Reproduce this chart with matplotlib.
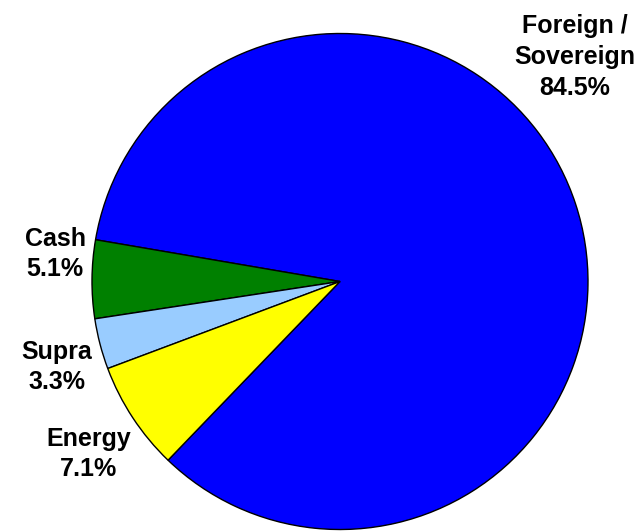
import matplotlib
matplotlib.use("Agg")
import matplotlib.pyplot as plt

# slice data (counterclockwise from the Energy/Foreign boundary)
labels = ["Foreign /\nSovereign", "Cash", "Supra", "Energy"]
shares = [84.5, 5.1, 3.3, 7.1]
colors = ["#0000FF", "#008000", "#99CCFF", "#FFFF00"]

W, H = 642, 531
cx, cy, r = 340, 281.5, 248

fig = plt.figure(figsize=(W / 100, H / 100), dpi=100)
ax = fig.add_axes([(cx - r) / W, (H - cy - r) / H, 2 * r / W, 2 * r / H])
ax.axis("off")

ax.pie(shares, colors=colors, startangle=226.1, counterclock=True, radius=1,
       wedgeprops=dict(edgecolor="black", linewidth=1.0))
ax.set_xlim(-1, 1)
ax.set_ylim(-1, 1)

# label centres in pixels of the reference
label_px = [(575, 57), (55, 254), (57, 367), (89, 454)]
for lab, val, (px, py) in zip(labels, shares, label_px):
    ax.text((px - cx) / r, (cy - py) / r, f"{lab}\n{val:.1f}%",
            ha="center", va="center", fontsize=18, fontweight="bold",
            family="Liberation Sans", linespacing=1.36, clip_on=False)

fig.savefig("out.png", dpi=100)
